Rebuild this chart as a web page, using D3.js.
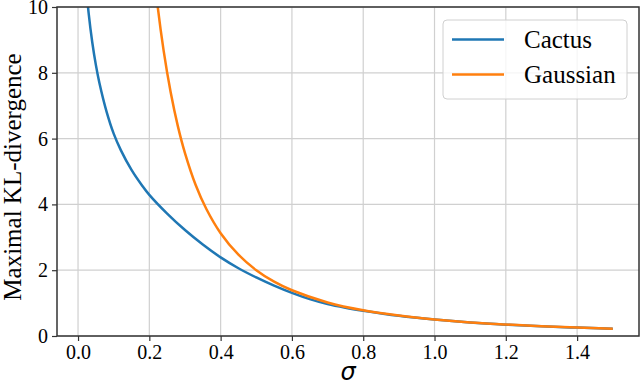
<!DOCTYPE html>
<html>
<head>
<meta charset="utf-8">
<script src="https://cdn.jsdelivr.net/npm/d3@7"></script>
<style>
  body { margin: 0; background: #fff; }
  svg { display: block; }
</style>
</head>
<body>
<div id="canvas"></div>
<script>
// values
var cactusSigma = [0.01, 0.02, 0.03, 0.04, 0.05, 0.06, 0.08, 0.10, 0.12, 0.15, 0.18, 0.20,
  0.25, 0.30, 0.35, 0.40, 0.45, 0.50, 0.55, 0.60, 0.65, 0.70, 0.75, 0.80, 0.90, 1.00,
  1.10, 1.20, 1.30, 1.40, 1.50];
var cactusKL = [13.1, 11.0, 9.79, 8.92, 8.24, 7.69, 6.82, 6.15, 5.65, 5.05, 4.57, 4.29,
  3.72, 3.22, 2.78, 2.39, 2.06, 1.78, 1.53, 1.31, 1.12, 0.97, 0.86, 0.77, 0.615, 0.50,
  0.41, 0.345, 0.295, 0.255, 0.222];

var gaussSigma = [0.20, 0.22, 0.24, 0.26, 0.28, 0.30, 0.33, 0.36, 0.40, 0.45, 0.50, 0.55,
  0.60, 0.70, 0.80, 0.90, 1.00, 1.10, 1.20, 1.30, 1.40, 1.50];
var gaussKL = [12.5, 10.33, 8.68, 7.40, 6.38, 5.56, 4.59, 3.86, 3.125, 2.47, 2.00, 1.65,
  1.39, 1.02, 0.78, 0.62, 0.50, 0.41, 0.35, 0.30, 0.255, 0.222];

var xTicks = [0.0, 0.2, 0.4, 0.6, 0.8, 1.0, 1.2, 1.4];
var yTicks = [0, 2, 4, 6, 8, 10];
var seriesNames = ['Cactus', 'Gaussian'];
var seriesColors = ['#1f77b4', '#ff7f0e'];

(function () {
  var width = 640, height = 386;
  var mLeft = 57, mRight = 639, mTop = 7, mBottom = 336;
  var serif = '"Liberation Serif", "Times New Roman", serif';

  var svg = d3.select('#canvas').append('svg')
    .attr('width', width)
    .attr('height', height);

  var x = d3.scaleLinear().domain([-0.059, 1.5736]).range([mLeft, mRight]);
  var y = d3.scaleLinear().domain([0, 10]).range([mBottom, mTop]);

  // grid
  svg.append('g').selectAll('line').data(xTicks).enter().append('line')
    .attr('x1', function (d) { return x(d); })
    .attr('x2', function (d) { return x(d); })
    .attr('y1', mTop).attr('y2', mBottom)
    .attr('stroke', '#d0d0d0').attr('stroke-width', 1.2);
  svg.append('g').selectAll('line').data(yTicks).enter().append('line')
    .attr('y1', function (d) { return y(d); })
    .attr('y2', function (d) { return y(d); })
    .attr('x1', mLeft).attr('x2', mRight)
    .attr('stroke', '#d0d0d0').attr('stroke-width', 1.2);

  // curves
  svg.append('clipPath').attr('id', 'plotclip')
    .append('rect').attr('x', mLeft).attr('y', mTop)
    .attr('width', mRight - mLeft).attr('height', mBottom - mTop);

  var line = d3.line()
    .x(function (d) { return x(d[0]); })
    .y(function (d) { return y(d[1]); })
    .curve(d3.curveCatmullRom.alpha(0.5));

  var series = [d3.zip(cactusSigma, cactusKL), d3.zip(gaussSigma, gaussKL)];
  svg.append('g').attr('clip-path', 'url(#plotclip)')
    .selectAll('path').data(series).enter().append('path')
    .attr('d', line)
    .attr('fill', 'none')
    .attr('stroke', function (d, i) { return seriesColors[i]; })
    .attr('stroke-width', 2.5);

  // axes
  var xAxis = d3.axisBottom(x).tickValues(xTicks).tickFormat(d3.format('.1f')).tickSize(5).tickPadding(4);
  var yAxis = d3.axisLeft(y).tickValues(yTicks).tickFormat(d3.format('d')).tickSize(5).tickPadding(4);

  var gx = svg.append('g').attr('transform', 'translate(0,' + mBottom + ')').call(xAxis);
  var gy = svg.append('g').attr('transform', 'translate(' + mLeft + ',0)').call(yAxis);
  [gx, gy].forEach(function (g) {
    g.select('.domain').remove();
    g.selectAll('.tick line').attr('stroke', '#333').attr('stroke-width', 1.2);
    g.selectAll('.tick text').attr('fill', '#000')
      .style('font-family', serif).style('font-size', '20px');
  });

  // frame
  svg.append('rect')
    .attr('x', mLeft).attr('y', mTop)
    .attr('width', mRight - mLeft).attr('height', mBottom - mTop)
    .attr('fill', 'none').attr('stroke', '#333').attr('stroke-width', 1.5);

  // labels
  svg.append('text')
    .attr('x', (mLeft + mRight) / 2).attr('y', 380)
    .attr('text-anchor', 'middle')
    .style('font-family', '"DejaVu Sans", sans-serif')
    .style('font-style', 'italic')
    .style('font-size', '24px')
    .text('σ');

  svg.append('text')
    .attr('transform', 'translate(21,177) rotate(-90)')
    .attr('text-anchor', 'middle')
    .style('font-family', serif)
    .style('font-size', '25px')
    .text('Maximal KL-divergence');

  // legend
  var legend = svg.append('g');
  legend.append('rect')
    .attr('x', 443).attr('y', 20).attr('width', 184).attr('height', 79)
    .attr('rx', 4)
    .attr('fill', 'rgba(255,255,255,0.8)')
    .attr('stroke', '#d0d0d0').attr('stroke-width', 1);

  var items = legend.selectAll('g.item').data(seriesNames).enter().append('g')
    .attr('class', 'item')
    .attr('transform', function (d, i) { return 'translate(0,' + (39.5 + i * 35) + ')'; });
  items.append('line')
    .attr('x1', 452).attr('x2', 504)
    .attr('stroke', function (d, i) { return seriesColors[i]; })
    .attr('stroke-width', 2.5);
  items.append('text')
    .attr('x', 524).attr('y', 8)
    .style('font-family', serif)
    .style('font-size', '25px')
    .text(function (d) { return d; });
})();
</script>
</body>
</html>
